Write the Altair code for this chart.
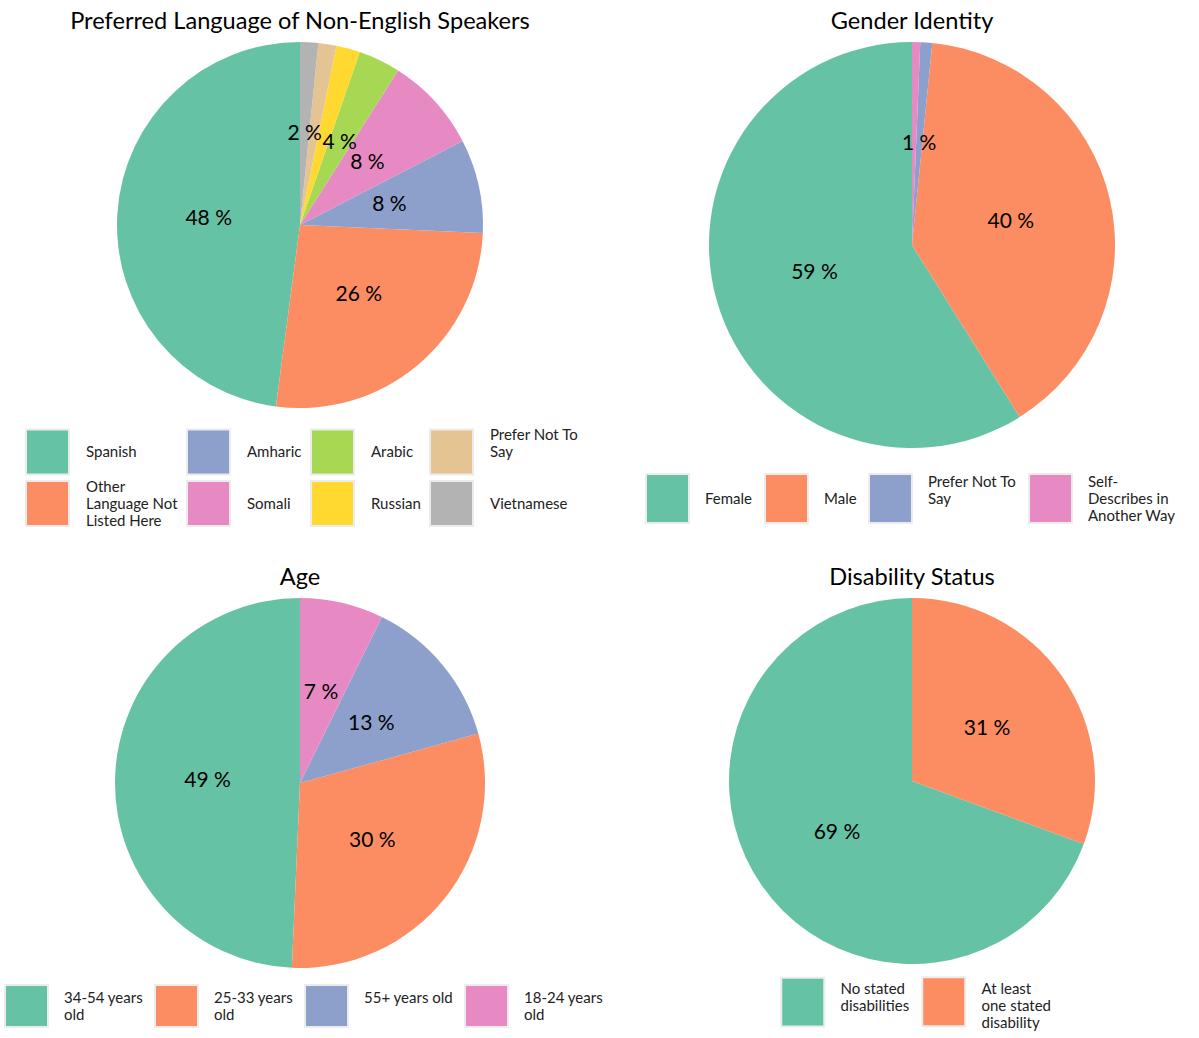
import math
import altair as alt
import pandas as pd

FONT = "Lato"
TEAL, ORANGE, BLUE, PINK = "#66c2a5", "#fc8d62", "#8da0cb", "#e78ac3"
GREEN, YELLOW, TAN, GRAY = "#a6d854", "#ffd92f", "#e5c494", "#b3b3b3"

# ---- Preferred language ----
lang_cats = ["Spanish", "Other Language Not Listed Here", "Amharic", "Somali",
             "Arabic", "Russian", "Prefer Not To Say", "Vietnamese"]
lang_vals = [47.9, 26.4, 8.3, 8.4, 3.7, 2.1, 1.6, 1.6]
lang_text = ["48 %", "26 %", "8 %", "8 %", "4 %", "", "", "2 %"]
lang_colors = [TEAL, ORANGE, BLUE, PINK, GREEN, YELLOW, TAN, GRAY]
lang_legend = ["Spanish", "Amharic", "Arabic", "Prefer Not To Say",
               "Other Language Not Listed Here", "Somali", "Russian", "Vietnamese"]
lang_wrap = {"Other Language Not Listed Here": ["Other", "Language Not", "Listed Here"],
             "Prefer Not To Say": ["Prefer Not To", "Say"]}

# ---- Gender ----
gender_cats = ["Female", "Male", "Prefer Not To Say", "Self-Describes in Another Way"]
gender_vals = [58.9, 39.5, 0.95, 0.65]
gender_text = ["59 %", "40 %", "1 %", ""]
gender_colors = [TEAL, ORANGE, BLUE, PINK]
gender_legend = gender_cats
gender_wrap = {"Prefer Not To Say": ["Prefer Not To", "Say"],
               "Self-Describes in Another Way": ["Self-", "Describes in", "Another Way"]}

# ---- Age ----
age_cats = ["34-54 years old", "25-33 years old", "55+ years old", "18-24 years old"]
age_vals = [49.3, 30.0, 13.4, 7.3]
age_text = ["49 %", "30 %", "13 %", "7 %"]
age_colors = [TEAL, ORANGE, BLUE, PINK]
age_legend = age_cats
age_wrap = {"34-54 years old": ["34-54 years", "old"],
            "25-33 years old": ["25-33 years", "old"],
            "18-24 years old": ["18-24 years", "old"]}

# ---- Disability ----
dis_cats = ["No stated disabilities", "At least one stated disability"]
dis_vals = [69.4, 30.6]
dis_text = ["69 %", "31 %"]
dis_colors = [TEAL, ORANGE]
dis_legend = dis_cats
dis_wrap = {"No stated disabilities": ["No stated", "disabilities"],
            "At least one stated disability": ["At least", "one stated", "disability"]}

LABEL_SIZE = 15
LINE_H = 17
SWATCH_W = 43      # visible swatch width
LABEL_START = 58   # distance from swatch left edge to label start


def label_expr(domain, wrap, shift):
    # pad labels with leading blank lines so each block sits near the swatch centre
    expr = "datum.label"
    for c in domain:
        lines = wrap.get(c, [c])
        n = len(lines)
        k = max(0, math.floor((shift - (n - 1) * LINE_H / 2.0) / LINE_H + 0.5 - 1e-9))
        lines = [""] * k + lines
        if len(lines) == 1:
            continue
        arr = "[" + ",".join("'" + l + "'" for l in lines) + "]"
        expr = "datum.label === '" + c + "' ? " + arr + " : " + expr
    return expr


def pie(key, title, cats, vals, texts, colors, legend_dom, wrap, w, h,
        sym_h, shift, lx, ly, col_pad, row_pad, ncols):
    n = len(cats)
    cf, vf, tf, of = key + "_cat", key + "_val", key + "_txt", key + "_ord"
    df = pd.DataFrame({cf: cats, vf: vals, tf: texts, of: list(range(n))[::-1]})
    cmap = dict(zip(cats, colors))
    # nominal symbol box kept small; the swatch path is drawn larger and lower
    box = sym_h - 2 * shift
    u = box / 2.0
    path = "M-%.3f,%.3fH%.3fV%.3fH-%.3fZ" % (
        SWATCH_W / 2.0 / u, (shift - sym_h / 2.0) / u, SWATCH_W / 2.0 / u,
        (shift + sym_h / 2.0) / u, SWATCH_W / 2.0 / u)
    sym_offset = SWATCH_W / 2.0 - u
    legend = alt.Legend(
        title=None, orient="none", legendX=lx, legendY=ly,
        direction="horizontal", columns=ncols,
        symbolType=path, symbolSize=box * box, symbolOffset=sym_offset,
        symbolStrokeColor="#ececec", symbolStrokeWidth=2, symbolOpacity=1,
        labelFont=FONT, labelFontSize=LABEL_SIZE, labelColor="#222222",
        labelExpr=label_expr(legend_dom, wrap, shift),
        labelOffset=LABEL_START - box - sym_offset,
        labelLimit=300, labelBaseline="middle",
        columnPadding=col_pad, rowPadding=row_pad, padding=0,
    )
    color_scale = alt.Scale(domain=legend_dom, range=[cmap[c] for c in legend_dom])
    base = alt.Chart(df)
    arcs = base.mark_arc().encode(
        theta=alt.Theta(vf + ":Q", stack=True),
        order=alt.Order(of + ":Q", sort="ascending"),
        color=alt.Color(cf + ":N", scale=color_scale, legend=legend),
    )
    labels = base.mark_text(radius=min(w, h) / 4.0, fontSize=21, font=FONT,
                            color="black").encode(
        theta=alt.Theta(vf + ":Q", stack=True),
        order=alt.Order(of + ":Q", sort="ascending"),
        text=tf + ":N",
    )
    return alt.layer(arcs, labels).properties(
        width=w, height=h,
        title=alt.TitleParams(title, anchor="middle"),
    )


c1 = pie("lang", "Preferred Language of Non-English Speakers", lang_cats, lang_vals, lang_text,
         lang_colors, lang_legend, lang_wrap, 600, 366, 45, 17, 24, 385, 5, -8, 4)
c2 = pie("gender", "Gender Identity", gender_cats, gender_vals, gender_text, gender_colors,
         gender_legend, gender_wrap, 570, 406, 49, 17, 18, 431, 7, 0, 4)
c3 = pie("age", "Age", age_cats, age_vals, age_text, age_colors, age_legend, age_wrap,
         600, 370, 42, 8.5, 4, 386, 7, 0, 4)
c4 = pie("dis", "Disability Status", dis_cats, dis_vals, dis_text, dis_colors, dis_legend,
         dis_wrap, 570, 366, 49, 12.75, 153, 378, 8, 0, 2)

chart = alt.concat(
    c1, c2, c3, c4, columns=2, spacing={"row": 150, "column": 27}, bounds="flush"
).resolve_scale(
    color="independent", theta="independent"
).resolve_legend(
    color="independent"
).properties(
    padding={"left": 0, "top": 10, "right": 0, "bottom": 0}
).configure_view(
    stroke="transparent"
).configure_title(
    font=FONT, fontSize=23.6, fontWeight="normal", color="black", offset=8
)

chart.save("out.html", embed_options={"renderer": "svg", "actions": False})
